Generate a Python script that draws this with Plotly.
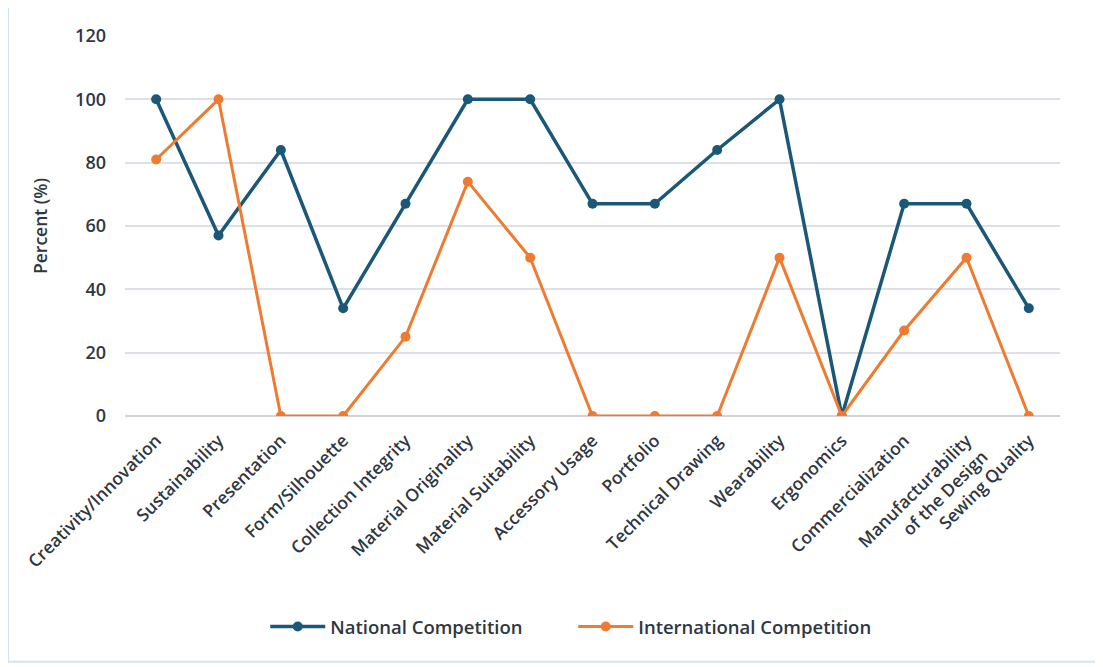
import plotly.graph_objects as go

categories = ["Creativity/Innovation", "Sustainability", "Presentation", "Form/Silhouette",
              "Collection Integrity", "Material Originality", "Material Suitability",
              "Accessory Usage", "Portfolio", "Technical Drawing", "Wearability",
              "Ergonomics", "Commercialization", "Manufacturability<br>of the Design",
              "Sewing Quality"]
national = [100, 57, 84, 34, 67, 100, 100, 67, 67, 84, 100, 0, 67, 67, 34]
international = [81, 100, 0, 0, 25, 74, 50, 0, 0, 0, 50, 0, 27, 50, 0]
y_ticks = [0, 20, 40, 60, 80, 100, 120]

NAVY = "#1b5877"
ORANGE = "#ee7b30"
TXT = "#2f3742"
FONT = "Open Sans, Liberation Sans, Arial, sans-serif"

fig = go.Figure()
fig.add_trace(go.Scatter(x=categories, y=national, mode="lines+markers",
                         name="National Competition",
                         line=dict(color=NAVY, width=3.5),
                         marker=dict(size=10, color=NAVY)))
fig.add_trace(go.Scatter(x=categories, y=international, mode="lines+markers",
                         name="International Competition",
                         line=dict(color=ORANGE, width=3),
                         marker=dict(size=10, color=ORANGE)))

fig.update_layout(
    width=1103, height=667,
    margin=dict(l=117, r=51, t=28, b=259),
    paper_bgcolor="white", plot_bgcolor="white",
    font=dict(family=FONT, color=TXT),
    showlegend=True,
    legend=dict(orientation="h", x=0.150, xanchor="left", y=-0.555, yanchor="middle",
                font=dict(size=18.5, color=TXT, family=FONT, weight=600),
                itemwidth=55, entrywidth=238, entrywidthmode="pixels"),
    shapes=[dict(type="rect", xref="paper", yref="paper",
                 x0=-0.125, x1=1.041, y0=-0.647, y1=1.0816,
                 line=dict(color="#d4e3f1", width=2), fillcolor="rgba(0,0,0,0)",
                 layer="below")],
)
fig.update_xaxes(tickangle=-45, tickfont=dict(size=17.5, color=TXT, family=FONT, weight=600),
                 showgrid=False, showline=False, ticks="", ticklabelstandoff=10,
                 range=[-0.5, len(categories) - 0.5])
fig.update_yaxes(range=[0, 120], tickvals=y_ticks, showgrid=True,
                 gridcolor="#dde1e7", gridwidth=1.5, zeroline=True,
                 zerolinecolor="#d0d4da", zerolinewidth=1.5,
                 tickfont=dict(size=18, color=TXT, family=FONT, weight=600),
                 ticklabelstandoff=18,
                 title=dict(text="Percent (%)", font=dict(size=17.5, color=TXT, family=FONT, weight=600),
                            standoff=22))

fig.write_html("out.html")
